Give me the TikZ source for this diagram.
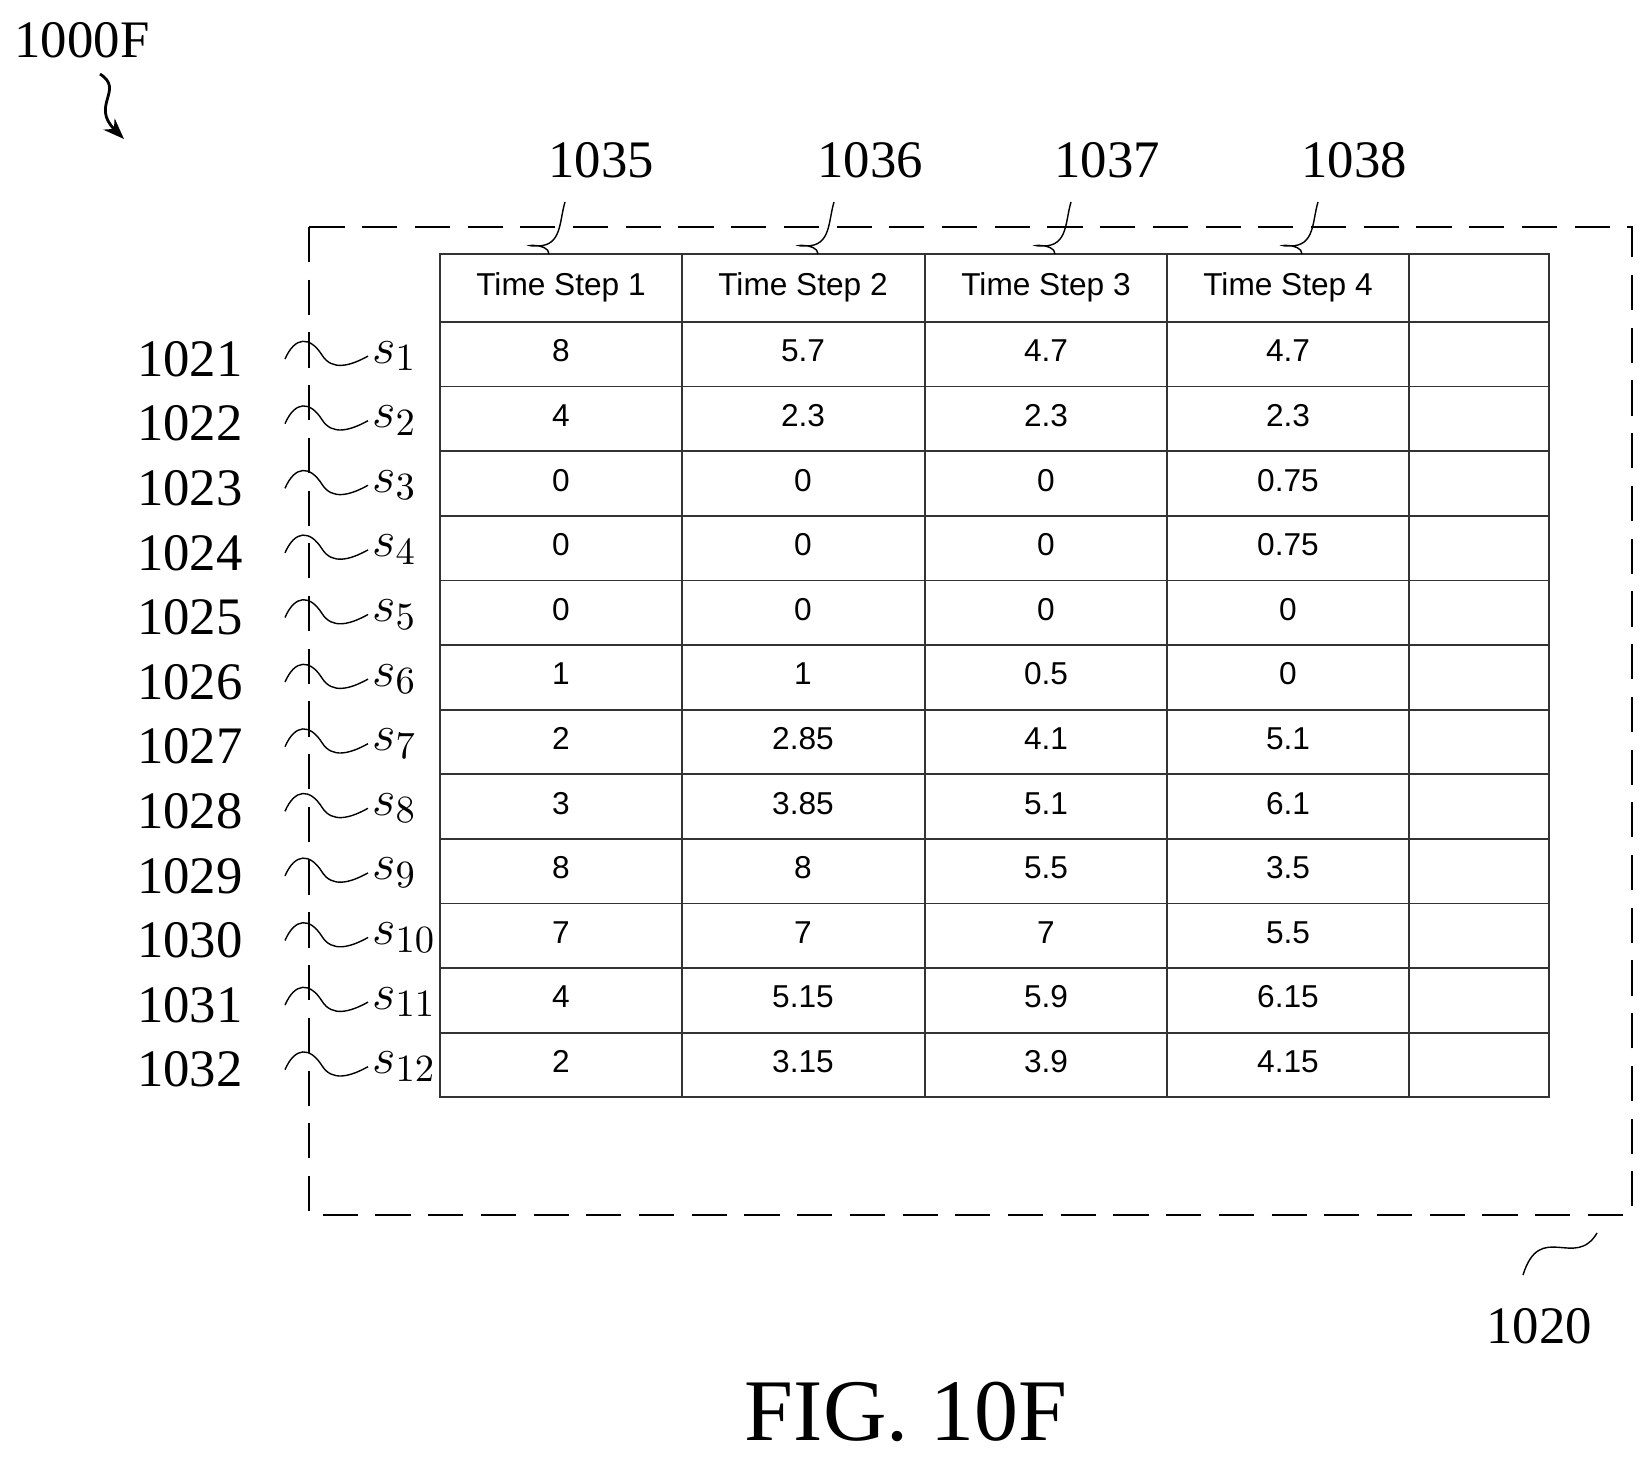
\documentclass[tikz,border=0pt]{standalone}
\usepackage{fontspec}
\setmainfont{Liberation Serif}
\setsansfont{Liberation Sans}
\usetikzlibrary{arrows.meta,calc}

\begin{document}
\begin{tikzpicture}[
    x=0.1mm, y=-0.1mm,
    refnum/.style={font=\fontsize{15}{17}\selectfont},
    cell/.style={font=\sffamily\fontsize{9}{10}\selectfont},
    squiggle/.style={thin},
    grid/.style={line width=0.5pt, draw=black!80}
]
\useasboundingbox (0,0) rectangle (1644,1461);

% Figure label
\node[refnum] (fig) at (82,40) {1000F};
\coordinate (figA) at (100,74);
\coordinate (figB) at (124,139);
\draw[thick, -{Stealth[length=6pt]}] (figA) .. controls (125,90) and (90,105) .. (figB);

% Dashed frame 1020
\draw[thick, dash pattern=on 10pt off 5pt] (309,227) rectangle (1632,1215);
\node[refnum] (r1020) at (1539,1326) {1020};
\coordinate (frA) at (1523,1275);
\coordinate (frB) at (1597,1233);
\draw[squiggle] (frA) .. controls (1540,1220) and (1575,1270) .. (frB);

% Table grid
\draw[grid] (440,254) rectangle (1549,1097);
\foreach \x in {682,925,1167,1409}
    \draw[grid] (\x,254) -- (\x,1097);
\draw[grid] (440,322) -- (1549,322);
\foreach \r in {1,...,11}
    \draw[grid] (440,{322+\r*64.6}) -- (1549,{322+\r*64.6});

% Header cells and reference numerals
\foreach \c/\xc/\num/\nx in {1/561/1035/601, 2/803/1036/870, 3/1046/1037/1107, 4/1288/1038/1354} {
    \node[cell] (ts\c) at (\xc,287) {Time Step \c};
    \node[refnum] (col\c) at (\nx,160) {\num};
    \draw[squiggle] ($(\nx,254)+(-52,0)$) .. controls +(0,-12) and +(-20,0) .. +(-12,-8)
        .. controls +(25,0) and +(-6,20) .. +(16,-52);
}

% Data rows
\foreach \r/\a/\b/\c/\d [count=\i] in {
    1/8/5.7/4.7/4.7, 2/4/2.3/2.3/2.3, 3/0/0/0/0.75, 4/0/0/0/0.75,
    5/0/0/0/0, 6/1/1/0.5/0, 7/2/2.85/4.1/5.1, 8/3/3.85/5.1/6.1,
    9/8/8/5.5/3.5, 10/7/7/7/5.5, 11/4/5.15/5.9/6.15, 12/2/3.15/3.9/4.15} {
    \pgfmathsetmacro{\yc}{322+(\i-0.55)*64.6}
    \node[cell] at (561,\yc) {\a};
    \node[cell] at (803,\yc) {\b};
    \node[cell] at (1046,\yc) {\c};
    \node[cell] at (1288,\yc) {\d};
    \pgfmathtruncatemacro{\refn}{1020+\i}
    \node[refnum, anchor=east] (row\i) at (255,{\yc+8}) {\refn};
    \node[refnum, anchor=west, inner sep=1pt] (s\i) at (368,{\yc+5}) {$s_{\r}$};
    \draw[squiggle] (285,{\yc+8}) .. controls (295,{\yc-15}) and (310,{\yc-15}) .. (322,{\yc+4})
        .. controls (332,{\yc+20}) and (350,{\yc+15}) .. (s\i.west);
}

% Caption
\node[font=\fontsize{25}{28}\selectfont] (caption) at (906,1412) {FIG. 10F};
\end{tikzpicture}
\end{document}
